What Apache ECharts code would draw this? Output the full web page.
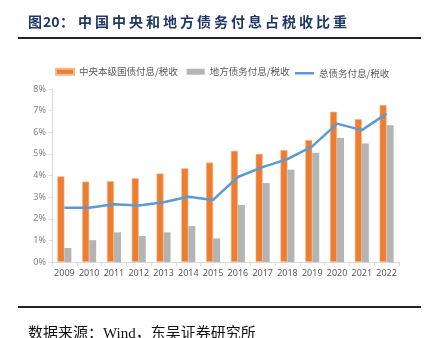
<!DOCTYPE html>
<html>
<head>
<meta charset="utf-8">
<script src="https://cdn.jsdelivr.net/npm/echarts@6/dist/echarts.min.js"></script>
<style>html,body{margin:0;padding:0;background:#fff}#c{width:427px;height:338px}</style>
</head>
<body>
<div id="c"></div>
<script>
const titleText = '图20：中国中央和地方债务付息占税收比重';
const sourceText = '数据来源：Wind，东吴证券研究所';
const categories = ['2009','2010','2011','2012','2013','2014','2015','2016','2017','2018','2019','2020','2021','2022'];
const centralInterest = [3.96,3.72,3.74,3.87,4.09,4.33,4.60,5.14,5.00,5.18,5.64,6.95,6.60,7.26];
const localInterest = [0.65,1.01,1.37,1.20,1.37,1.66,1.09,2.64,3.65,4.27,5.05,5.74,5.48,6.32];
const totalInterest = [2.51,2.51,2.67,2.61,2.76,3.02,2.87,3.93,4.39,4.76,5.35,6.40,6.10,6.86];
const yTicks = [0,1,2,3,4,5,6,7,8];

const chart = echarts.init(document.getElementById('c'), null, {renderer:'canvas'});

const titleEls = [];
const head = ['图','20','：'];
const headX = [28,43,60];
head.forEach((t,i)=>titleEls.push({type:'text',left:headX[i],top:15,style:{text:t,font:'bold 14px "Noto Sans CJK SC"',fill:'#1F3864'}}));
const rest = titleText.slice(4).split('');
rest.forEach((t,i)=>titleEls.push({type:'text',left:78+i*17,top:15,style:{text:t,font:'bold 14px "Noto Sans CJK SC"',fill:'#1F3864'}}));

const legendText = {fontSize:9.5,color:'#595959',fontFamily:'"Noto Sans CJK SC"'};

chart.setOption({
  animation:false,
  graphic:[
    ...titleEls,
    {type:'line',shape:{x1:18,y1:38,x2:421,y2:38},style:{stroke:'#222',lineWidth:2}},
    {type:'line',shape:{x1:18,y1:307,x2:421,y2:307},style:{stroke:'#222',lineWidth:2}},
    {type:'text',left:28,top:327,style:{text:sourceText,font:'15px "Liberation Serif","Noto Sans CJK SC"',fill:'#111'}}
  ],
  legend:[
    {top:67,left:55,padding:0,itemWidth:18,itemHeight:6,itemGap:9,textStyle:legendText,
     data:[{name:'中央本级国债付息/税收',icon:'rect'},{name:'地方债务付息/税收',icon:'rect'}]},
    {top:68.5,left:295,padding:0,itemWidth:19,itemHeight:2.5,textStyle:legendText,
     data:[{name:'总债务付息/税收',icon:'rect'}]}
  ],
  grid:{left:52,right:28,top:89,bottom:76},
  xAxis:{
    type:'category',data:categories,
    axisLine:{lineStyle:{color:'#D9D9D9'}},
    axisTick:{show:true,length:4,lineStyle:{color:'#D9D9D9'}},
    axisLabel:{interval:0,fontSize:9,color:'#595959',margin:7,fontFamily:'"Noto Sans"'}
  },
  yAxis:{
    type:'value',min:0,max:8,interval:1,
    axisLine:{show:true,lineStyle:{color:'#D9D9D9'}},
    axisTick:{show:true,length:3,lineStyle:{color:'#D9D9D9'}},
    splitLine:{show:false},
    axisLabel:{fontSize:9,color:'#7F7F7F',margin:6,formatter:v=>v+'%',fontFamily:'"Noto Sans"'}
  },
  series:[
    {name:'中央本级国债付息/税收',type:'bar',data:centralInterest,barWidth:7,barGap:'0%',
     itemStyle:{color:'#ED7D31',borderColor:'#F6B98F',borderWidth:0.6}},
    {name:'地方债务付息/税收',type:'bar',data:localInterest,barWidth:7,
     itemStyle:{color:'#B4B4B4'}},
    {name:'总债务付息/税收',type:'line',data:totalInterest,symbol:'none',
     lineStyle:{color:'#5B9BD5',width:2.5},itemStyle:{color:'#5B9BD5'}}
  ]
});
</script>
</body>
</html>
